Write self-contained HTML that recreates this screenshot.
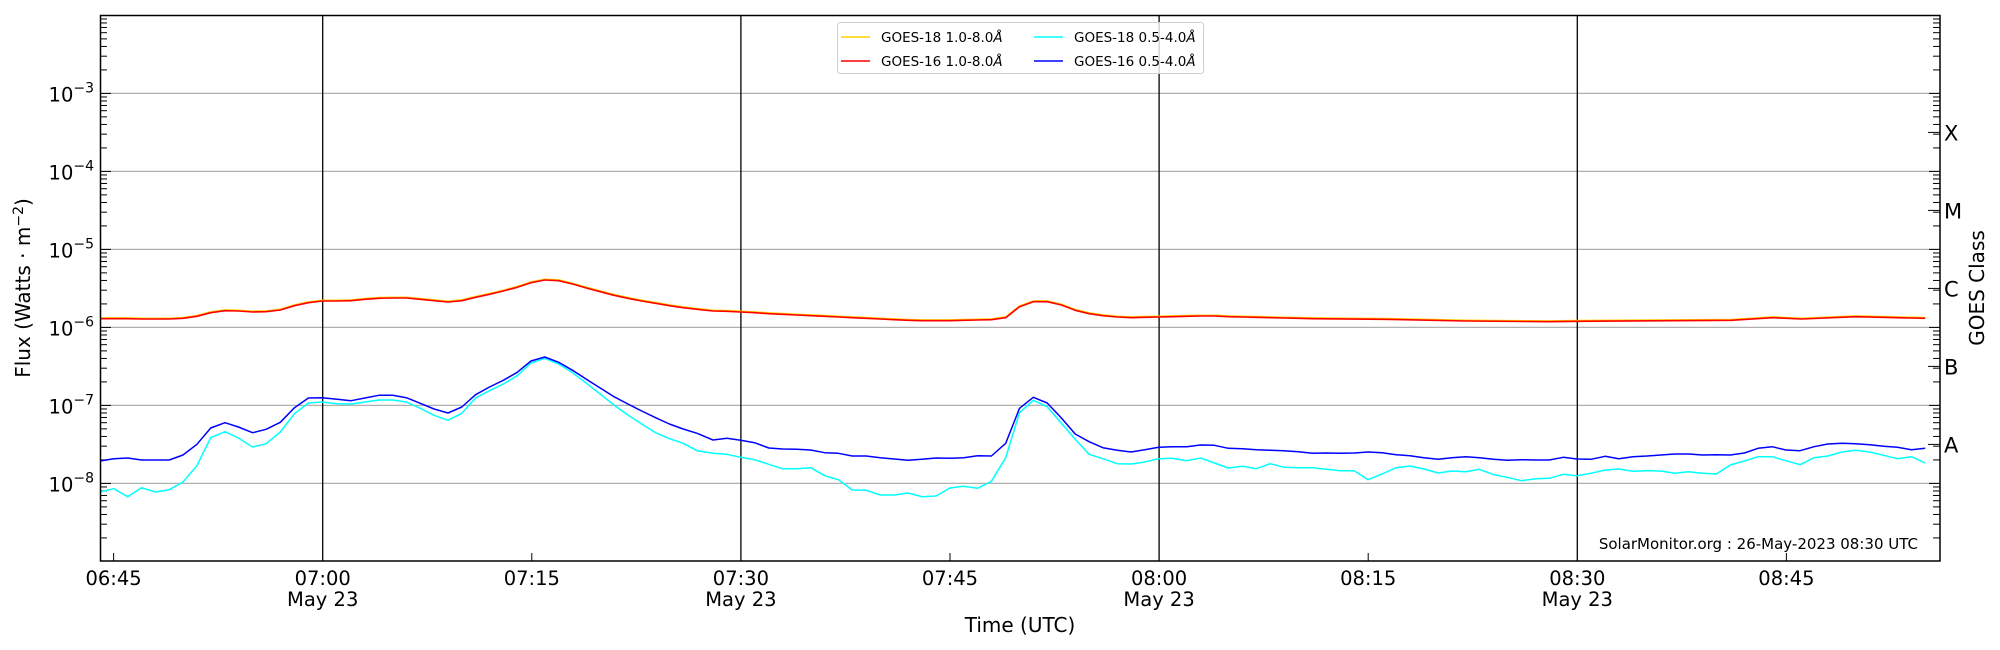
<!DOCTYPE html>
<html><head><meta charset="utf-8"><style>
html,body{margin:0;padding:0;background:#fff;}
svg{display:block;font-family:"DejaVu Sans","Liberation Sans",sans-serif;}
</style></head><body>
<svg id="s" width="2000" height="650" viewBox="0 0 2000 650" xmlns="http://www.w3.org/2000/svg">
<rect width="2000" height="650" fill="#fff"/>
<g id="grid" stroke="#b0b0b0" stroke-width="1.2"></g>
<g id="vl" stroke="#000" stroke-width="1.3"></g>
<g id="ticks" stroke="#000" stroke-width="1"></g>
<g id="data" fill="none" stroke-linejoin="round"></g>
<rect x="100.5" y="15.5" width="1839.5" height="545.5" fill="none" stroke="#000" stroke-width="1.5"/>
<g id="labels" font-size="19.5" fill="#000"></g>
<text transform="translate(30,288) rotate(-90)" text-anchor="middle" font-size="20">Flux (Watts · m<tspan dy="-7" font-size="14">−2</tspan><tspan dy="7">)</tspan></text>
<text transform="translate(1984,288) rotate(-90)" text-anchor="middle" font-size="20">GOES Class</text>
<text x="1020" y="632" text-anchor="middle" font-size="20">Time (UTC)</text>
<text x="1918" y="549" text-anchor="end" font-size="15">SolarMonitor.org : 26-May-2023 08:30 UTC</text>
<g>
<rect x="837.5" y="22.5" width="366" height="51" rx="3" fill="#fff" fill-opacity="0.8" stroke="#d0d0d0"/>
<line x1="841" y1="37" x2="870" y2="37" stroke="#ffd000" stroke-width="1.5"/>
<line x1="841" y1="61" x2="870" y2="61" stroke="#ff0000" stroke-width="1.5"/>
<line x1="1034" y1="37" x2="1063" y2="37" stroke="#00ffff" stroke-width="1.5"/>
<line x1="1034" y1="61" x2="1063" y2="61" stroke="#0000ff" stroke-width="1.5"/>
<g font-size="13.5">
<text x="881" y="42">GOES-18 1.0-8.0<tspan font-style="italic">Å</tspan></text>
<text x="881" y="66">GOES-16 1.0-8.0<tspan font-style="italic">Å</tspan></text>
<text x="1074" y="42">GOES-18 0.5-4.0<tspan font-style="italic">Å</tspan></text>
<text x="1074" y="66">GOES-16 0.5-4.0<tspan font-style="italic">Å</tspan></text>
</g></g>
</svg>
<script>
var NS="http://www.w3.org/2000/svg";
function el(p,t,a,txt){var e=document.createElementNS(NS,t);for(var k in a)e.setAttribute(k,a[k]);if(txt!=null)e.textContent=txt;document.getElementById(p).appendChild(e);return e;}
function Y(l){return 483.4-(l+8)*78;}
function X(t){return 113.6+t*13.94;}
for(var d=-8;d<=-3;d++){el("grid","line",{x1:100,x2:1940,y1:Y(d),y2:Y(d)});}
for(var d=-9;d<-2;d++){for(var m=1;m<10;m++){var y=Y(d+Math.log10(m));if(y<15||y>561)continue;var L=m==1?11:7;
el("ticks","line",{x1:100,x2:100+L,y1:y,y2:y});el("ticks","line",{x1:1940,x2:1940-L,y1:y,y2:y});}}
var labs=["06:45","07:00","07:15","07:30","07:45","08:00","08:15","08:30","08:45"];
for(var i=0;i<9;i++){var x=X(i*15);
if(i%2==1){el("vl","line",{x1:x,x2:x,y1:15,y2:561});}else{el("ticks","line",{x1:x,x2:x,y1:561,y2:553});}
el("labels","text",{x:x,y:585,"text-anchor":"middle"},labs[i]);
if(i%2==1)el("labels","text",{x:x,y:606,"text-anchor":"middle"},"May 23");}
for(var d=-8;d<=-3;d++){var t=el("labels","text",{x:94,y:Y(d)+8,"text-anchor":"end"});
t.innerHTML='10<tspan dy="-9" font-size="14">−'+(-d)+'</tspan>';}
var cls=["A","B","C","M","X"];
for(var i=0;i<5;i++){var y=Y(-7.5+i);el("labels","text",{x:1944,y:y+8,"font-size":21},cls[i]);el("ticks","line",{x1:1940,x2:1928,y1:y,y2:y});}
function seg(pts,ox,sx){var o=[];for(var i=0;i<pts.length;i+=2){o.push((ox+pts[i]/sx).toFixed(1)+","+(280+pts[i+1]/3).toFixed(1));}return o;}
var R5=[0,116,35,116,70,116,105,117,140,117,175,117,210,115,245,109,280,98,316,92,350,93,386,96,420,95,456,90,492,77,527,68,562,63,600,63,635,62,670,58,705,55,740,54,775,54,810,58,845,62,880,66,915,62,950,52,985,43,1020,33,1055,22,1090,8,1125,0,1160,2,1195,12,1230,24,1265,35,1300,46,1335,55,1370,63,1405,70,1440,77,1475,83,1510,88];
var B5=[0,543,35,536,70,534,105,540,140,540,175,540,210,525,245,493,280,444,316,428,350,441,386,458,420,448,456,427,492,383,527,354,562,353,600,358,635,362,670,354,705,346,740,346,775,353,810,370,845,387,880,399,915,381,950,344,985,321,1020,301,1055,277,1090,243,1125,231,1160,247,1195,271,1230,298,1265,324,1300,350,1335,372,1370,393,1405,413,1440,432,1475,447,1510,460];
var C5=[0,636,35,626,70,650,105,623,140,636,175,629,210,606,245,557,280,473,316,455,350,474,386,501,420,491,456,456,492,401,527,369,562,366,600,371,635,372,670,366,705,360,740,360,775,366,810,385,845,406,880,421,915,400,950,354,985,332,1020,312,1055,287,1090,249,1125,235,1160,252,1195,278,1230,310,1265,342,1300,375,1335,405,1370,432,1405,458,1440,476,1475,490,1510,512];
var R6=[33,93,68,94,103,96,138,98,174,101,209,103,244,105,280,107,315,109,350,111,385,113,420,115,456,117,491,119,526,121,561,122,597,122,632,122,667,121,702,120,737,119,773,113,808,80,843,65,878,65,914,75,949,91,984,101,1019,107,1055,111,1090,113,1125,112,1160,111,1195,110,1231,109,1266,108,1301,108,1336,110,1372,111,1407,112,1442,113,1477,114,1513,115];
var B6=[33,480,68,475,103,481,138,488,174,504,209,507,244,508,280,510,315,518,350,520,385,528,420,528,456,533,491,537,526,541,561,538,597,534,632,535,667,533,702,527,737,528,773,490,808,385,843,352,878,369,914,414,949,462,984,485,1019,503,1055,511,1090,516,1125,509,1160,502,1195,500,1231,500,1266,495,1301,496,1336,505,1372,506,1407,509,1442,511,1477,512,1513,515];
var C6=[33,520,68,523,103,532,138,539,174,553,209,566,244,566,280,563,315,587,350,599,385,630,420,631,456,645,491,645,526,639,561,650,597,648,632,624,667,619,702,625,737,604,773,533,808,398,843,361,878,380,914,430,949,478,984,523,1019,536,1055,551,1090,552,1125,546,1160,536,1195,535,1231,542,1266,534,1301,549,1336,564,1372,559,1407,566,1442,551,1477,562,1513,563];
var R7=[30,116,200,118,400,123,600,125,670,124,900,122,1040,121,1140,113,1210,117,1340,110,1440,113,1508,115];
var B7=[30,520,64,519,97,520,131,519,164,516,198,518,232,524,265,527,299,533,333,538,366,533,400,530,433,533,467,538,500,541,534,539,568,540,601,540,635,532,668,537,702,538,736,529,769,536,803,530,837,528,870,525,904,522,937,522,971,525,1004,524,1038,525,1072,519,1105,505,1139,500,1172,510,1206,512,1240,500,1273,492,1307,490,1340,491,1374,494,1408,499,1441,502,1475,509,1508,505];
var C7=[30,563,64,568,97,572,131,572,164,599,198,582,232,563,265,558,299,567,333,579,366,573,400,575,433,568,467,584,500,592,534,602,568,596,601,595,635,583,668,587,702,580,736,570,769,567,803,574,837,572,870,573,904,580,937,575,971,580,1004,582,1038,555,1072,543,1105,530,1139,530,1172,542,1206,554,1240,533,1273,528,1307,516,1340,511,1374,516,1408,526,1441,536,1475,530,1508,549];
function full(a,b,c){var p=seg(a,100,2.529).concat(seg(b,700,2.529)).concat(seg(c,1300,2.412));
var o=[],lx=-1;p.forEach(function(s){var x=parseFloat(s);if(x>lx+4){o.push(s);lx=x;}});return o.join(" ");}
var red=full(R5,R6,R7),blue=full(B5,B6,B7),cyan=full(C5,C6,C7);
el("data","polyline",{points:red,stroke:"#ffd000","stroke-width":1.5,transform:"translate(0,-0.8)"});
el("data","polyline",{points:red,stroke:"#ff0000","stroke-width":1.6});
el("data","polyline",{points:cyan,stroke:"#00ffff","stroke-width":1.5});
el("data","polyline",{points:blue,stroke:"#0000ff","stroke-width":1.5});
</script>
</body></html>
